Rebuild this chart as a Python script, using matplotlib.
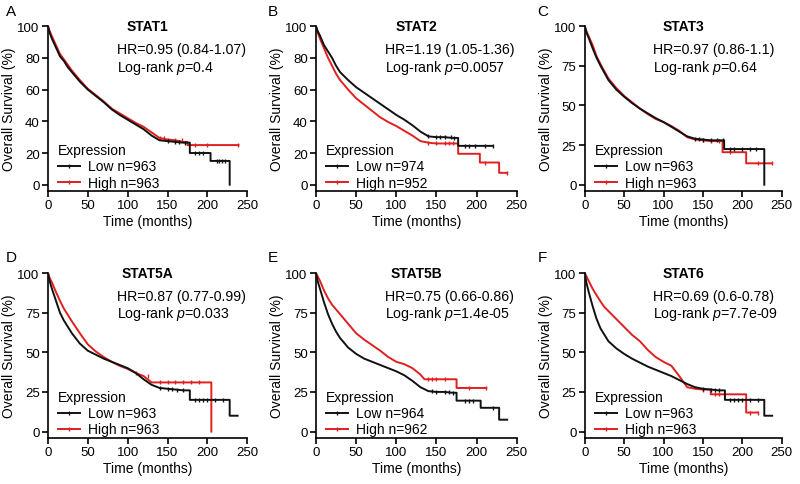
import numpy as np
import matplotlib.pyplot as plt
from matplotlib.lines import Line2D

plt.rcParams['font.family'] = ['Liberation Sans', 'DejaVu Sans']
plt.rcParams['mathtext.fontset'] = 'custom'
plt.rcParams['mathtext.it'] = 'Liberation Sans:italic'
plt.rcParams['mathtext.rm'] = 'Liberation Sans'

RED = '#e0201f'
BLACK = '#111111'

genes = ["STAT1", "STAT2", "STAT3", "STAT5A", "STAT5B", "STAT6"]
letters = ["A", "B", "C", "D", "E", "F"]
hr_text = ["HR=0.95 (0.84-1.07)", "HR=1.19 (1.05-1.36)", "HR=0.97 (0.86-1.1)",
           "HR=0.87 (0.77-0.99)", "HR=0.75 (0.66-0.86)", "HR=0.69 (0.6-0.78)"]
p_text = ["0.4", "0.0057", "0.64", "0.033", "1.4e-05", "7.7e-09"]
n_low = [963, 974, 963, 963, 964, 963]
n_high = [963, 952, 963, 963, 962, 963]
y_ticks = [[0, 20, 40, 60, 80, 100], [0, 20, 40, 60, 80, 100], [0, 25, 50, 75, 100],
           [0, 25, 50, 75, 100], [0, 25, 50, 75, 100], [0, 25, 50, 75, 100]]

# curve vertices (months, % survival); repeated times mark the step drops in the tails
t_low = [
    [0, 2, 5, 10, 15, 20, 25, 30, 40, 50, 60, 70, 80, 90, 100, 110, 120, 130, 140, 150, 160, 170, 178, 178, 204, 204, 228, 228],
    [0, 2, 5, 10, 15, 20, 25, 30, 40, 50, 60, 70, 80, 90, 100, 110, 120, 130, 140, 150, 160, 170, 177, 177, 220],
    [0, 2, 5, 10, 15, 20, 25, 30, 40, 50, 60, 70, 80, 90, 100, 110, 120, 130, 140, 150, 160, 170, 177, 177, 228, 228],
    [0, 2, 5, 10, 15, 20, 25, 30, 40, 50, 60, 70, 80, 90, 100, 110, 120, 130, 140, 150, 160, 170, 178, 178, 228, 228, 238],
    [0, 2, 5, 10, 15, 20, 25, 30, 40, 50, 60, 70, 80, 90, 100, 110, 120, 130, 140, 150, 160, 170, 175, 175, 205, 205, 228, 228, 238],
    [0, 2, 5, 10, 15, 20, 25, 30, 40, 50, 60, 70, 80, 90, 100, 110, 120, 130, 140, 150, 160, 170, 178, 178, 228, 228, 238],
]
s_low = [
    [100, 96, 92, 86.5, 81, 78, 74, 71, 65, 60, 56, 52, 47.5, 44, 41, 38, 35, 31, 28, 27.5, 27, 26.5, 26.5, 20, 20, 15, 15, 0],
    [100, 97, 94, 88, 84, 80, 75, 71, 66, 61.5, 58, 54.5, 51, 47.5, 44, 41, 37.5, 33.5, 30.5, 30, 30, 29.5, 29.5, 24.5, 24.5],
    [100, 96, 92.5, 86, 80, 75, 70.5, 66, 60, 55.5, 51.5, 48, 45, 42, 39.5, 36.5, 33.5, 30.5, 29, 28.5, 28, 28, 28, 22.5, 22.5, 0],
    [100, 95, 90, 82.5, 75, 70, 66, 62, 55.5, 51, 48.5, 46, 44, 42, 40, 37, 33, 29.5, 27.5, 27, 26.5, 26, 26, 20, 20, 10, 10],
    [100, 95, 90, 81.5, 74, 68, 63, 59, 53, 49, 46, 44, 42, 40, 38, 35.5, 32, 28, 25.5, 25, 25, 24.5, 24.5, 19.5, 19.5, 15, 15, 7.5, 7.5],
    [100, 94, 88, 79, 71, 65, 61, 57, 52.5, 49, 46, 43.5, 41, 39, 37, 35, 32.5, 30, 28, 27, 26.5, 26, 26, 20, 20, 10, 10],
]
t_high = [
    [0, 2, 5, 10, 15, 20, 25, 30, 40, 50, 60, 70, 80, 90, 100, 110, 120, 130, 140, 150, 160, 170, 175, 175, 239],
    [0, 2, 5, 10, 15, 20, 25, 30, 40, 50, 60, 70, 80, 90, 100, 110, 120, 130, 140, 150, 160, 170, 177, 177, 204, 204, 228, 228, 238],
    [0, 2, 5, 10, 15, 20, 25, 30, 40, 50, 60, 70, 80, 90, 100, 110, 120, 130, 140, 150, 160, 170, 175, 175, 205, 205, 238],
    [0, 2, 5, 10, 15, 20, 25, 30, 40, 50, 60, 70, 80, 90, 100, 110, 120, 130, 205, 205],
    [0, 2, 5, 10, 15, 20, 25, 30, 40, 50, 60, 70, 80, 90, 100, 110, 120, 130, 135, 170, 175, 175, 212],
    [0, 2, 5, 10, 15, 20, 25, 30, 40, 50, 60, 70, 80, 90, 100, 110, 120, 130, 140, 150, 160, 160, 205, 205, 220],
]
s_high = [
    [100, 97, 93.5, 88, 82.5, 79, 75.5, 72, 66, 60.5, 56.5, 52.5, 48, 45, 42, 39, 36.5, 33, 29.5, 28.5, 28, 27, 27, 25, 25],
    [100, 96, 92, 86, 80, 75, 70, 66, 60, 54.5, 50.5, 46.5, 42.5, 39.5, 37, 34, 31, 27.5, 26.5, 26, 26, 26, 26, 19.5, 19.5, 14, 14, 7.5, 7.5],
    [100, 97, 93.5, 88, 81, 76, 71.5, 67, 61, 56, 52, 48, 44.5, 41.5, 39.5, 37, 34, 30, 28.5, 28, 27.5, 27.5, 27.5, 20.5, 20.5, 13.5, 13.5],
    [100, 97, 94, 88, 82.5, 77.5, 73.5, 69.5, 62, 55, 50.5, 47, 44, 41.5, 39.5, 37, 35, 31, 31, 0],
    [100, 98, 95, 89, 84, 80, 77, 74, 68, 62, 58, 54.5, 51, 47, 44, 42.5, 40, 36, 33, 33, 33, 27.5, 27.5],
    [100, 98, 95, 90, 86, 82, 78.5, 76, 71, 66, 61, 57, 51.5, 47, 44, 41.5, 35, 28, 27, 26.5, 26.5, 23.5, 23.5, 12, 12],
]
# censoring times in the sparse tails
c_low = [[150, 160, 165, 172, 185, 190, 195, 212, 215, 218, 222],
         [140, 150, 155, 160, 168, 172, 185, 190, 198, 210, 220],
         [140, 145, 150, 160, 168, 175, 185, 190, 200, 210, 218],
         [140, 150, 155, 162, 170, 185, 190, 195, 200, 210, 220],
         [145, 150, 160, 165, 170, 185, 190, 195, 220],
         [150, 160, 165, 170, 185, 190, 195, 200, 210, 220]]
c_high = [[140, 145, 150, 160, 168, 185, 200, 239],
          [140, 150, 160, 165, 170, 210, 238],
          [150, 160, 170, 185, 220, 238],
          [110, 125, 140, 150, 160, 170, 180, 190],
          [140, 145, 150, 160, 190, 212],
          [150, 165, 170, 210, 220]]

fig = plt.figure(figsize=(8, 4.85), dpi=100)
lefts = [0.060, 0.395, 0.731]
widths = [0.249, 0.251, 0.246]
bottoms = [0.604, 0.095]

for i in range(6):
    r, c = divmod(i, 3)
    ax = fig.add_axes([lefts[c], bottoms[r], widths[c], 0.340])
    for t, s, cens, col, z in [(t_low[i], s_low[i], c_low[i], BLACK, 3),
                               (t_high[i], s_high[i], c_high[i], RED, 2)]:
        ax.plot(t, s, color=col, lw=1.4, zorder=z)
        # censor ticks sit on the curve (last value at or before each time)
        t_arr = np.array(t)
        s_arr = np.array(s)
        cy = [s_arr[np.where(t_arr <= ct)[0][-1]] for ct in cens]
        ax.plot(cens, cy, ls='none', marker='|', ms=3.5, mew=1, color=col, zorder=z)
    ax.set_xlim(0, 250)
    ax.set_ylim(-4, 100)
    ax.set_xticks([0, 50, 100, 150, 200, 250])
    ax.set_yticks(y_ticks[i])
    for side in ['top', 'right']:
        ax.spines[side].set_visible(False)
    for side in ['left', 'bottom']:
        ax.spines[side].set_linewidth(1.2)
    ax.tick_params(direction='out', length=4, width=1.2, labelsize=9.5, pad=2)
    ax.set_xlabel("Time (months)", fontsize=10, labelpad=2)
    ax.set_ylabel("Overall Survival (%)", fontsize=10, labelpad=1)
    ax.text(0.5, 1.0, genes[i], transform=ax.transAxes, ha='center', va='center',
            fontsize=10, fontweight='bold')
    ax.text(0.345, 0.86, hr_text[i], transform=ax.transAxes, ha='left', va='center', fontsize=10.2)
    ax.text(0.345, 0.755, "Log-rank $p$=" + p_text[i], transform=ax.transAxes,
            ha='left', va='center', fontsize=10.2)
    handles = [Line2D([], [], color=BLACK, lw=1.4, marker='|', ms=3.5, mew=1),
               Line2D([], [], color=RED, lw=1.4, marker='|', ms=3.5, mew=1)]
    leg = ax.legend(handles, [f"Low n={n_low[i]}", f"High n={n_high[i]}"], title="Expression",
                    loc='lower left', bbox_to_anchor=(0.0, -0.05), frameon=False, fontsize=10,
                    title_fontsize=10, numpoints=1, handlelength=1.6, handletextpad=0.6,
                    labelspacing=0.15, borderaxespad=0.3)
    leg._legend_box.align = 'left'
    fig.text([0.014, 0.341, 0.678][c], [0.975, 0.468][r], letters[i], fontsize=11,
             ha='center', va='center')

fig.savefig("out.png", dpi=100)
